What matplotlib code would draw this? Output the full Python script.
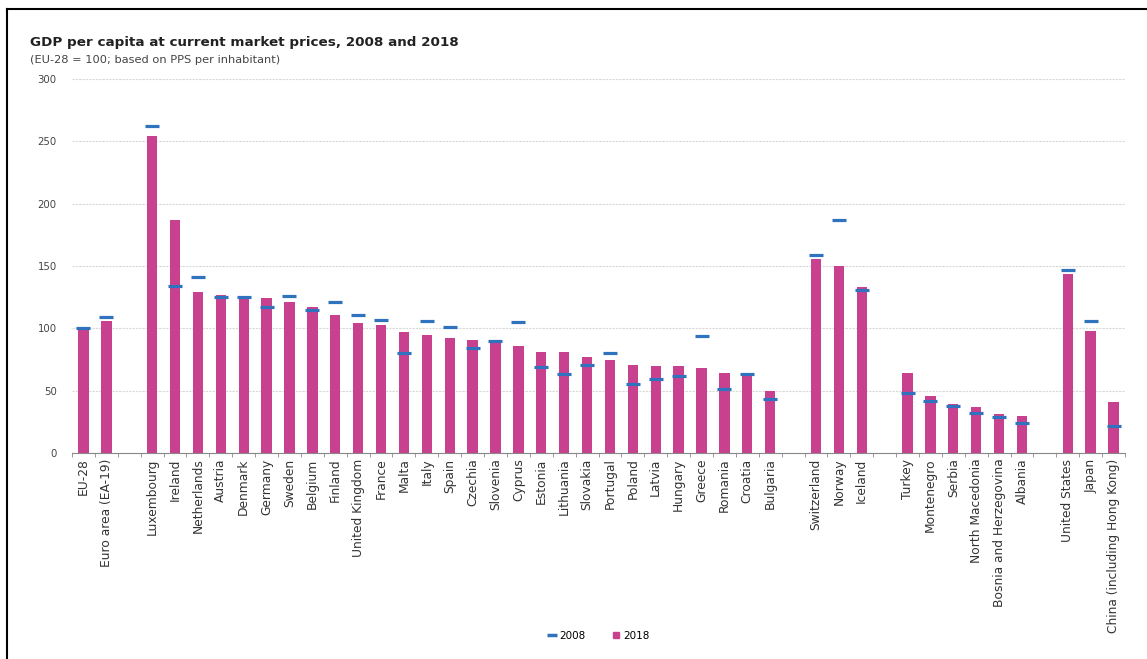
import matplotlib.pyplot as plt
from matplotlib.lines import Line2D
import numpy as np

# Categories, "" marks an empty slot between groups
labels = ["EU-28", "Euro area (EA-19)", "",
          "Luxembourg", "Ireland", "Netherlands", "Austria", "Denmark", "Germany", "Sweden",
          "Belgium", "Finland", "United Kingdom", "France", "Malta", "Italy", "Spain",
          "Czechia", "Slovenia", "Cyprus", "Estonia", "Lithuania", "Slovakia", "Portugal",
          "Poland", "Latvia", "Hungary", "Greece", "Romania", "Croatia", "Bulgaria", "",
          "Switzerland", "Norway", "Iceland", "",
          "Turkey", "Montenegro", "Serbia", "North Macedonia", "Bosnia and Herzegovina", "Albania", "",
          "United States", "Japan", "China (including Hong Kong)"]

v2018 = [100, 106, None,
         254, 187, 129, 127, 125, 124, 121, 117, 111, 104, 103, 97, 95, 92,
         91, 88, 86, 81, 81, 77, 75, 71, 70, 70, 68, 64, 63, 50, None,
         156, 150, 133, None,
         64, 46, 39, 37, 31, 30, None,
         144, 98, 41]

v2008 = [100, 109, None,
         262, 134, 141, 125, 125, 117, 126, 115, 121, 111, 107, 80, 106, 101,
         84, 90, 105, 69, 63, 71, 80, 55, 59, 62, 94, 51, 63, 43, None,
         159, 187, 131, None,
         48, 42, 38, 32, 29, 24, None,
         147, 106, 22]

pink = "#c8418f"
blue = "#2f72bd"

fig = plt.figure(figsize=(11.47, 6.59), dpi=100)
ax = fig.add_axes([0.0628, 0.3126, 0.918, 0.5674])

x = np.arange(len(labels))
idx = [i for i, v in enumerate(v2018) if v is not None]
ax.bar([x[i] for i in idx], [v2018[i] for i in idx], width=0.45, color=pink, zorder=2)
ax.scatter([x[i] for i in idx], [v2008[i] for i in idx], marker="_", s=105,
           linewidths=2.3, color=blue, zorder=3)

ax.set_xlim(-0.5, len(labels) - 0.5)
ax.set_ylim(0, 300)
ax.set_yticks(range(0, 301, 50))
ax.yaxis.grid(True, color="#d8d8d8", linestyle=(0, (2, 1)), linewidth=0.8, zorder=0)
ax.tick_params(axis="y", length=0, labelsize=7.3, labelcolor="#444444", pad=11)

ax.set_xticks(x)
ax.set_xticklabels(labels, rotation=90, fontsize=8.8, color="#333333")
ax.tick_params(axis="x", length=0, pad=4)
ax.set_xticks(np.arange(-0.5, len(labels)), minor=True)
ax.tick_params(axis="x", which="minor", length=3, color="#888888", direction="out")

for s in ["top", "right", "left"]:
    ax.spines[s].set_visible(False)
ax.spines["bottom"].set_color("#888888")

fig.text(0.026, 0.936, "GDP per capita at current market prices, 2008 and 2018",
         fontsize=9.7, fontweight="bold", color="#222222", va="center")
fig.text(0.026, 0.909, "(EU-28 = 100; based on PPS per inhabitant)",
         fontsize=8.2, color="#444444", va="center")

handles = [Line2D([], [], color=blue, marker="_", linestyle="none", markersize=7, markeredgewidth=2.5),
           Line2D([], [], color=pink, marker="s", linestyle="none", markersize=4)]
fig.legend(handles, ["2008", "2018"], loc="center", bbox_to_anchor=(0.522, 0.035),
           ncol=2, frameon=False, fontsize=7.5, handlelength=0.8, handletextpad=0.3,
           columnspacing=2.5)

# frame edges visible in the screenshot (top and left)
fig.add_artist(Line2D([0.006, 1.0], [0.986, 0.986], transform=fig.transFigure,
                      color="black", linewidth=1.5))
fig.add_artist(Line2D([0.006, 0.006], [0.0, 0.986], transform=fig.transFigure,
                      color="black", linewidth=1.5))

fig.savefig("out.png", dpi=100)
